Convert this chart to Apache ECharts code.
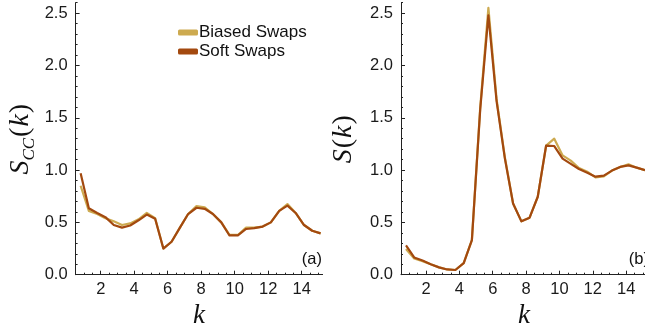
<!DOCTYPE html>
<html>
<head>
<meta charset="utf-8">
<script src="https://cdn.jsdelivr.net/npm/echarts@6/dist/echarts.min.js"></script>
<style>
  html, body { margin: 0; padding: 0; background: #fff; }
  #chart { width: 645px; height: 330px; }
</style>
</head>
<body>
<div id="chart"></div>
<script>
// wave numbers k shared by both panels
const kValues = [0.80, 1.29, 1.79, 2.28, 2.78, 3.27, 3.76, 4.26, 4.75, 5.25,
                 5.74, 6.23, 6.73, 7.22, 7.72, 8.21, 8.70, 9.20, 9.69, 10.19,
                 10.68, 11.17, 11.67, 12.16, 12.66, 13.15, 13.64, 14.14, 14.63, 15.13];

// panel (a): S_CC(k)
const sccBiased = [0.85, 0.61, 0.58, 0.54, 0.51, 0.475, 0.49, 0.53, 0.59, 0.54,
                   0.25, 0.315, 0.45, 0.58, 0.655, 0.645, 0.58, 0.50, 0.38, 0.38,
                   0.45, 0.45, 0.46, 0.50, 0.61, 0.675, 0.59, 0.475, 0.42, 0.395];
const sccSoft = [0.97, 0.635, 0.59, 0.55, 0.475, 0.45, 0.47, 0.52, 0.575, 0.535,
                 0.25, 0.315, 0.45, 0.58, 0.64, 0.63, 0.58, 0.50, 0.375, 0.375,
                 0.437, 0.445, 0.46, 0.50, 0.61, 0.66, 0.59, 0.475, 0.42, 0.395];

// panel (b): S(k)
const skBiased = [0.245, 0.155, 0.13, 0.10, 0.07, 0.05, 0.045, 0.11, 0.33, 1.60,
                  2.55, 1.68, 1.12, 0.68, 0.51, 0.545, 0.745, 1.233, 1.30, 1.14,
                  1.09, 1.02, 0.985, 0.93, 0.94, 0.995, 1.03, 1.055, 1.023, 1.0];
const skSoft = [0.28, 0.165, 0.135, 0.10, 0.07, 0.05, 0.045, 0.11, 0.33, 1.58,
                2.48, 1.66, 1.11, 0.68, 0.51, 0.545, 0.745, 1.233, 1.23, 1.11,
                1.06, 1.01, 0.975, 0.937, 0.947, 0.995, 1.03, 1.045, 1.023, 1.0];

// tick labels
const xTickLabels = [2, 4, 6, 8, 10, 12, 14];
const yTickLabels = [0, 0.5, 1.0, 1.5, 2.0, 2.5];

const seriesNames = ['Biased Swaps', 'Soft Swaps'];
const colors = { 'Biased Swaps': '#CDAA50', 'Soft Swaps': '#A3490F' };

const X_MIN = 0.5, X_MAX = 15.25, Y_MIN = 0, Y_MAX = 2.6;

// minor tick positions: every 0.5 along k, every 0.1 along S
const xMinor = [];
for (let v = 0.5; v <= 15.0001; v += 0.5) xMinor.push(+v.toFixed(2));
const yMinor = [];
for (let v = 0; v <= 2.6001; v += 0.1) yMinor.push(+v.toFixed(2));

const sansFont = 'Liberation Sans';
const serifFont = 'Liberation Serif';
const axisColor = '#222';
const labelSize = 16.5;

function pairs(ys) { return kValues.map((k, i) => [k, ys[i]]); }

function xAxes(grid) {
  return [
    {
      type: 'value', gridIndex: grid, position: 'bottom', min: X_MIN, max: X_MAX,
      axisLine: { show: true, lineStyle: { color: axisColor, width: 1 } },
      axisTick: { show: true, inside: true, length: 4, customValues: xTickLabels, lineStyle: { color: axisColor } },
      axisLabel: { show: true, customValues: xTickLabels, margin: 6, fontFamily: sansFont, fontSize: labelSize, color: '#1a1a1a' },
      splitLine: { show: false },
      name: '{k|k}', nameLocation: 'middle', nameGap: 28,
      nameTextStyle: { rich: { k: { fontFamily: serifFont, fontStyle: 'italic', fontSize: 27, color: '#111' } } }
    },
    {
      type: 'value', gridIndex: grid, position: 'bottom', min: X_MIN, max: X_MAX,
      axisLine: { show: false },
      axisTick: { show: true, inside: true, length: 2, customValues: xMinor, lineStyle: { color: axisColor } },
      axisLabel: { show: false },
      splitLine: { show: false }
    }
  ];
}

function yAxes(grid, nameRich, gap) {
  return [
    {
      type: 'value', gridIndex: grid, position: 'left', min: Y_MIN, max: Y_MAX,
      axisLine: { show: true, lineStyle: { color: axisColor, width: 1 } },
      axisTick: { show: true, inside: true, length: 4, customValues: yTickLabels, lineStyle: { color: axisColor } },
      axisLabel: {
        show: true, customValues: yTickLabels, margin: 8, fontFamily: sansFont, fontSize: labelSize, color: '#1a1a1a',
        formatter: v => v.toFixed(1)
      },
      splitLine: { show: false },
      name: nameRich, nameLocation: 'middle', nameGap: gap,
      nameTextStyle: {
        rich: {
          s: { fontFamily: serifFont, fontStyle: 'italic', fontSize: 28, color: '#111', lineHeight: 34 },
          p: { fontFamily: serifFont, fontSize: 28, color: '#111', lineHeight: 34, padding: [0, 1, 0, 1] },
          sub: { fontFamily: serifFont, fontStyle: 'italic', fontSize: 17, color: '#111', verticalAlign: 'bottom', lineHeight: 16 }
        }
      }
    },
    {
      type: 'value', gridIndex: grid, position: 'left', min: Y_MIN, max: Y_MAX,
      axisLine: { show: false },
      axisTick: { show: true, inside: true, length: 2, customValues: yMinor, lineStyle: { color: axisColor } },
      axisLabel: { show: false },
      splitLine: { show: false }
    }
  ];
}

function line(name, ys, axisIdx, z) {
  return {
    name: name, type: 'line', xAxisIndex: axisIdx, yAxisIndex: axisIdx,
    data: pairs(ys), showSymbol: false, symbol: 'none', smooth: false, z: z,
    color: colors[name],
    lineStyle: { color: colors[name], width: 2.2, join: 'round' },
    animation: false
  };
}

const chart = echarts.init(document.getElementById('chart'), null, { renderer: 'canvas' });
chart.setOption({
  backgroundColor: '#fff',
  animation: false,
  grid: [
    { left: 75.6, top: 2.7, width: 247, height: 272, outerBoundsMode: 'none', containLabel: false },
    { left: 401, top: 2.7, width: 246, height: 272, outerBoundsMode: 'none', containLabel: false }
  ],
  xAxis: [...xAxes(0), ...xAxes(1)],
  yAxis: [
    ...yAxes(0, '{s|S}{sub|CC}{p|(}{s|k}{p|)}', 38),
    ...yAxes(1, '{s|S}{p|(}{s|k}{p|)}', 40)
  ],
  legend: {
    data: seriesNames, orient: 'vertical', left: 173, top: 19, itemGap: 2,
    icon: 'roundRect', itemWidth: 20, itemHeight: 6,
    textStyle: { fontFamily: sansFont, fontSize: 17, color: '#111', padding: [0, 0, 0, -4] }
  },
  graphic: [
    { type: 'text', right: 323, top: 251, style: { text: '(a)', fontFamily: sansFont, fontSize: labelSize, fill: '#111' } },
    { type: 'text', right: -4, top: 251, style: { text: '(b)', fontFamily: sansFont, fontSize: labelSize, fill: '#111' } }
  ],
  series: [
    line('Biased Swaps', sccBiased, 0, 2),
    line('Soft Swaps', sccSoft, 0, 3),
    line('Biased Swaps', skBiased, 2, 2),
    line('Soft Swaps', skSoft, 2, 3)
  ]
});
</script>
</body>
</html>
